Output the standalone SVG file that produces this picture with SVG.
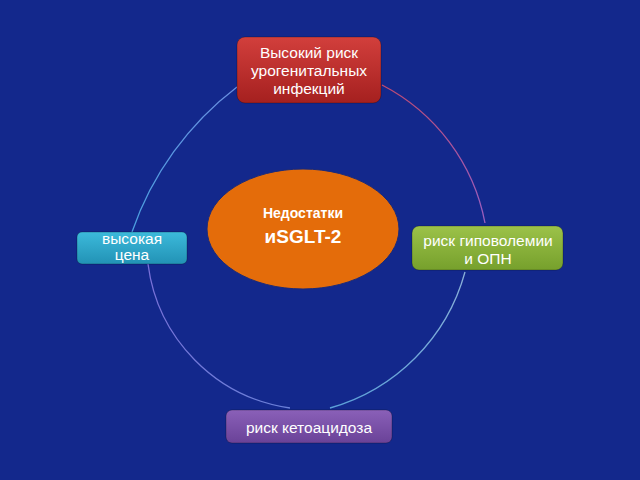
<svg xmlns="http://www.w3.org/2000/svg" width="640" height="480" viewBox="0 0 640 480">
<defs>
<linearGradient id="gRed" x1="0" y1="0" x2="0" y2="1"><stop offset="0" stop-color="#d23f3c"/><stop offset="1" stop-color="#a5201f"/></linearGradient>
<linearGradient id="gGreen" x1="0" y1="0" x2="0" y2="1"><stop offset="0" stop-color="#9cc249"/><stop offset="1" stop-color="#76a02c"/></linearGradient>
<linearGradient id="gCyan" x1="0" y1="0" x2="0" y2="1"><stop offset="0" stop-color="#3cbadb"/><stop offset="1" stop-color="#2292b5"/></linearGradient>
<linearGradient id="gPurple" x1="0" y1="0" x2="0" y2="1"><stop offset="0" stop-color="#8a60b8"/><stop offset="1" stop-color="#6a4298"/></linearGradient>
<linearGradient id="aTL" gradientUnits="userSpaceOnUse" x1="237" y1="87" x2="132" y2="232"><stop offset="0" stop-color="#6a8ee0"/><stop offset="1" stop-color="#4aa0e0"/></linearGradient>
<linearGradient id="aTR" gradientUnits="userSpaceOnUse" x1="382" y1="85" x2="485" y2="223"><stop offset="0" stop-color="#c04a70"/><stop offset="1" stop-color="#9a5ec0"/></linearGradient>
<linearGradient id="aBR" gradientUnits="userSpaceOnUse" x1="465" y1="272" x2="330" y2="408"><stop offset="0" stop-color="#8ab0d8"/><stop offset="1" stop-color="#5aa0d8"/></linearGradient>
<linearGradient id="aBL" gradientUnits="userSpaceOnUse" x1="148" y1="264" x2="290" y2="408"><stop offset="0" stop-color="#7a70d8"/><stop offset="1" stop-color="#6a80d8"/></linearGradient>
</defs>
<style>
.t{fill:#ffffff;font-family:"Liberation Sans",Arial,sans-serif;font-size:15.5px;text-anchor:middle}
.c{fill:none;stroke-width:1.3}
.b{stroke:#000;stroke-opacity:0.25;stroke-width:1}
.h{fill:#ffffff;font-family:"Liberation Sans",Arial,sans-serif;font-weight:bold;text-anchor:middle}
</style>
<rect width="640" height="480" fill="#13288c"/>
<g id="connectors">
<path class="c" stroke="url(#aTL)" d="M 237 87 A 309 309 0 0 0 132 232"/>
<path class="c" stroke="url(#aTR)" d="M 382 85 A 197 197 0 0 1 485 223"/>
<path class="c" stroke="url(#aBR)" d="M 465 272 A 195 195 0 0 1 330 408"/>
<path class="c" stroke="url(#aBL)" d="M 148 264 A 167 167 0 0 0 290 408"/>
</g>
<g id="center">
<ellipse cx="303" cy="229" rx="96" ry="60" fill="#e46c0a" stroke="#1a2a7a" stroke-width="1"/>
<text class="h" x="303" y="218" font-size="14">Недостатки</text>
<text class="h" x="303" y="243" font-size="19">иSGLT-2</text>
</g>
<g id="top">
<rect class="b" x="237" y="37" width="144" height="66" rx="8" fill="url(#gRed)"/>
<text class="t" x="309" y="58">Высокий риск</text>
<text class="t" x="309" y="76">урогенитальных</text>
<text class="t" x="309" y="94">инфекций</text>
</g>
<g id="right">
<rect class="b" x="412" y="226" width="151" height="44" rx="7" fill="url(#gGreen)"/>
<text class="t" x="488" y="246">риск гиповолемии</text>
<text class="t" x="488" y="264">и ОПН</text>
</g>
<g id="left">
<rect class="b" x="77" y="232" width="110" height="32" rx="5" fill="url(#gCyan)"/>
<text class="t" x="132" y="244" font-size="13.5">высокая</text>
<text class="t" x="132" y="260" font-size="13.5">цена</text>
</g>
<g id="bottom">
<rect class="b" x="226" y="410" width="166" height="33" rx="6" fill="url(#gPurple)"/>
<text class="t" x="309" y="433">риск кетоацидоза</text>
</g>
</svg>
